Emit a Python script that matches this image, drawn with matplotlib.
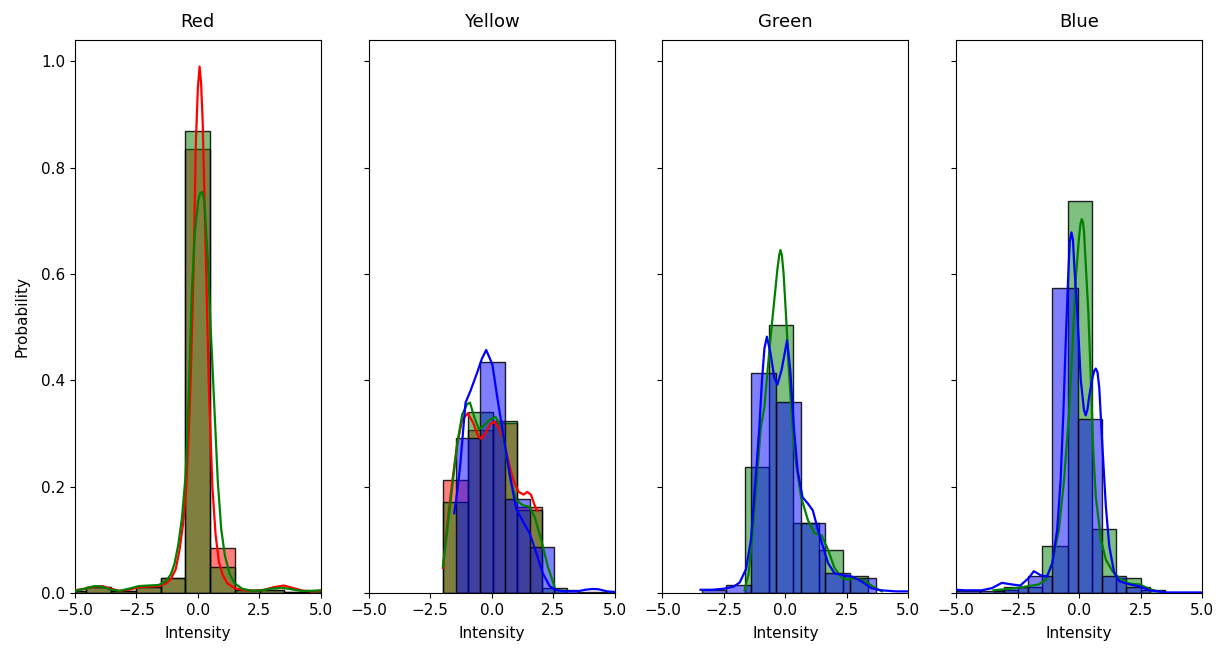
import matplotlib
matplotlib.use("Agg")
import matplotlib.pyplot as plt
from matplotlib.colors import to_rgba
import numpy as np

plt.rcParams["font.size"] = 11
plt.rcParams["xtick.labelsize"] = 11
plt.rcParams["ytick.labelsize"] = 11

panel_titles = ["Red", "Yellow", "Green", "Blue"]
x_ticks = [-5.0, -2.5, 0.0, 2.5, 5.0]

# ---- Panel 1 (Red): histograms (bin edges + probabilities) ----
p1_red_edges = [-5.56, -4.55, -3.54, -2.53, -1.52, -0.51, 0.49, 1.50, 2.51, 3.52, 4.53, 5.54]
p1_red_probs = [0.004, 0.011, 0.004, 0.011, 0.028, 0.834, 0.084, 0.005, 0.005, 0.002, 0.004]
p1_green_edges = [-5.56, -4.55, -3.54, -2.53, -1.52, -0.51, 0.49, 1.50, 2.51, 3.52, 4.53, 5.54]
p1_green_probs = [0.004, 0.011, 0.004, 0.011, 0.028, 0.868, 0.048, 0.005, 0.005, 0.002, 0.004]
# KDE curves
p1_red_kde_x = [-5.0, -4.6, -4.2, -3.9, -3.6, -3.2, -2.8, -2.4, -2.0, -1.6, -1.3, -1.1, -0.9, -0.75,
                -0.6, -0.47, -0.37, -0.28, -0.18, -0.08, 0.0, 0.07, 0.13, 0.2, 0.34, 0.45, 0.59,
                0.72, 0.85, 1.0, 1.2, 1.5, 1.9, 2.3, 2.7, 3.1, 3.5, 3.9, 4.3, 4.7, 5.0]
p1_red_kde_y = [0.005, 0.008, 0.012, 0.013, 0.009, 0.004, 0.006, 0.011, 0.012, 0.013, 0.018, 0.026,
                0.045, 0.08, 0.13, 0.2, 0.3, 0.42, 0.6, 0.85, 0.95, 0.99, 0.96, 0.88, 0.6, 0.38,
                0.2, 0.11, 0.06, 0.035, 0.018, 0.009, 0.005, 0.004, 0.006, 0.011, 0.014, 0.009,
                0.004, 0.003, 0.004]
p1_green_kde_x = [-5.0, -4.6, -4.2, -3.9, -3.6, -3.2, -2.8, -2.4, -2.0, -1.6, -1.3, -1.1, -0.95, -0.8,
                  -0.65, -0.5, -0.38, -0.25, -0.12, 0.02, 0.1, 0.18, 0.25, 0.3, 0.4, 0.5, 0.61, 0.7,
                  0.81, 0.95, 1.1, 1.3, 1.5, 1.8, 2.2, 2.6, 3.0, 3.4, 3.8, 4.2, 4.6, 5.0]
p1_green_kde_y = [0.004, 0.008, 0.013, 0.012, 0.007, 0.004, 0.008, 0.013, 0.014, 0.015, 0.022, 0.035,
                  0.055, 0.09, 0.14, 0.22, 0.36, 0.56, 0.68, 0.74, 0.752, 0.754, 0.74, 0.71, 0.63,
                  0.52, 0.41, 0.32, 0.21, 0.12, 0.07, 0.035, 0.018, 0.008, 0.004, 0.005, 0.008,
                  0.01, 0.007, 0.004, 0.004, 0.005]

# ---- Panel 2 (Yellow) ----
p2_red_edges = [-1.98, -0.94, 0.05, 1.05, 2.06]
p2_red_probs = [0.212, 0.306, 0.320, 0.162]
p2_green_edges = [-1.98, -0.94, 0.05, 1.05, 2.06, 3.07]
p2_green_probs = [0.171, 0.341, 0.323, 0.156, 0.009]
p2_blue_edges = [-1.46, -0.46, 0.53, 1.55, 2.52, 3.51, 4.50, 5.49]
p2_blue_probs = [0.291, 0.435, 0.177, 0.087, 0.006, 0.002, 0.002]
p2_red_kde_x = [-1.98, -1.8, -1.6, -1.4, -1.2, -0.97, -0.75, -0.55, -0.42, -0.25, -0.05, 0.12, 0.3,
                0.5, 0.7, 0.9, 1.1, 1.3, 1.45, 1.6, 1.75, 1.85]
p2_red_kde_y = [0.047, 0.13, 0.21, 0.28, 0.325, 0.338, 0.32, 0.295, 0.29, 0.30, 0.318, 0.322, 0.31,
                0.285, 0.245, 0.21, 0.19, 0.185, 0.19, 0.185, 0.165, 0.155]
p2_green_kde_x = [-1.98, -1.8, -1.6, -1.4, -1.2, -1.0, -0.88, -0.7, -0.52, -0.3, -0.1, 0.16, 0.39,
                  0.6, 0.8, 1.0, 1.27, 1.55, 1.75, 2.02, 2.29, 2.56]
p2_green_kde_y = [0.05, 0.12, 0.2, 0.28, 0.335, 0.355, 0.358, 0.33, 0.308, 0.315, 0.325, 0.331, 0.313,
                  0.256, 0.206, 0.175, 0.165, 0.162, 0.143, 0.10, 0.049, 0.012]
p2_blue_kde_x = [-1.52, -1.4, -1.27, -1.15, -1.06, -0.86, -0.59, -0.4, -0.22, 0.03, 0.23, 0.5, 0.75,
                 1.0, 1.27, 1.55, 1.82, 2.08, 2.36, 2.6, 2.95, 3.5, 3.8, 4.1, 4.35, 4.7, 5.0]
p2_blue_kde_y = [0.15, 0.19, 0.243, 0.31, 0.358, 0.38, 0.414, 0.44, 0.457, 0.43, 0.368, 0.29, 0.22,
                 0.158, 0.135, 0.112, 0.075, 0.037, 0.013, 0.006, 0.003, 0.003, 0.006, 0.0075,
                 0.007, 0.003, 0.002]

# ---- Panel 3 (Green) ----
p3_green_edges = [-1.66, -0.67, 0.33, 1.35, 2.35, 3.36]
p3_green_probs = [0.237, 0.504, 0.131, 0.081, 0.031]
p3_blue_edges = [-3.40, -2.40, -1.41, -0.38, 0.64, 1.63, 2.63, 3.68]
p3_blue_probs = [0.005, 0.015, 0.413, 0.360, 0.132, 0.038, 0.028]
p3_green_kde_x = [-1.66, -1.5, -1.33, -1.15, -1.0, -0.85, -0.72, -0.58, -0.45, -0.32, -0.25, -0.2,
                  -0.14, -0.07, 0.03, 0.13, 0.23, 0.33, 0.44, 0.64, 0.92, 1.19, 1.47, 1.74, 2.0, 2.3,
                  2.56, 2.84, 3.25, 3.66, 3.93]
p3_green_kde_y = [0.005, 0.035, 0.11, 0.22, 0.31, 0.35, 0.42, 0.49, 0.55, 0.61, 0.635, 0.645, 0.635,
                  0.6, 0.52, 0.43, 0.355, 0.29, 0.242, 0.18, 0.137, 0.112, 0.109, 0.081, 0.047,
                  0.028, 0.025, 0.028, 0.022, 0.009, 0.003]
p3_blue_kde_x = [-3.45, -3.0, -2.5, -2.1, -1.85, -1.6, -1.4, -1.2, -1.06, -0.95, -0.85, -0.75, -0.6,
                 -0.45, -0.32, -0.15, 0.07, 0.2, 0.35, 0.5, 0.7, 0.92, 1.12, 1.33, 1.53, 1.74, 2.0,
                 2.3, 2.7, 3.1, 3.5, 3.9, 4.5, 5.0]
p3_blue_kde_y = [0.006, 0.006, 0.008, 0.012, 0.02, 0.045, 0.1, 0.22, 0.31, 0.4, 0.46, 0.482, 0.45,
                 0.405, 0.392, 0.42, 0.475, 0.42, 0.31, 0.23, 0.18, 0.168, 0.155, 0.118, 0.087,
                 0.056, 0.037, 0.034, 0.031, 0.022, 0.009, 0.005, 0.003, 0.003]

# ---- Panel 4 (Blue) ----
p4_green_edges = [-3.48, -2.47, -1.49, -0.46, 0.53, 1.50, 2.50, 3.50]
p4_green_probs = [0.006, 0.012, 0.089, 0.737, 0.120, 0.028, 0.006]
p4_blue_edges = [-5.02, -4.03, -3.04, -2.07, -1.09, -0.04, 0.95, 1.92, 2.90]
p4_blue_probs = [0.003, 0.004, 0.012, 0.031, 0.573, 0.328, 0.031, 0.012]
p4_green_kde_x = [-3.48, -3.27, -2.59, -1.91, -1.64, -1.36, -1.09, -0.82, -0.61, -0.41, -0.27, -0.14,
                  0.0, 0.06, 0.11, 0.16, 0.2, 0.27, 0.38, 0.48, 0.57, 0.68, 0.89, 1.09, 1.36, 1.64,
                  2.05, 2.46, 2.86, 3.2, 3.5]
p4_green_kde_y = [0.005, 0.006, 0.009, 0.014, 0.016, 0.025, 0.056, 0.119, 0.2125, 0.3375, 0.4625,
                  0.5875, 0.67, 0.695, 0.703, 0.697, 0.68, 0.619, 0.525, 0.4, 0.275, 0.181, 0.1,
                  0.0625, 0.041, 0.028, 0.0175, 0.016, 0.0075, 0.003, 0.001]
p4_blue_kde_x = [-5.0, -4.64, -3.96, -3.55, -3.14, -2.73, -2.39, -2.05, -1.84, -1.55, -1.3, -1.09,
                 -0.89, -0.75, -0.64, -0.55, -0.45, -0.38, -0.31, -0.25, -0.2, -0.07, 0.07, 0.2,
                 0.27, 0.34, 0.41, 0.55, 0.62, 0.68, 0.75, 0.82, 0.95, 1.09, 1.23, 1.43, 1.64, 2.05,
                 2.46, 2.86, 3.55, 5.0]
p4_blue_kde_y = [0.006, 0.005, 0.005, 0.009, 0.019, 0.016, 0.014, 0.028, 0.041, 0.033, 0.031, 0.056,
                 0.119, 0.2125, 0.3375, 0.4625, 0.5875, 0.66, 0.678, 0.665, 0.62, 0.525, 0.4, 0.344,
                 0.334, 0.345, 0.369, 0.406, 0.418, 0.422, 0.415, 0.387, 0.275, 0.1625, 0.0875,
                 0.0375, 0.022, 0.016, 0.0125, 0.005, 0.001, 0.001]

panels = [
    [("red", p1_red_edges, p1_red_probs, p1_red_kde_x, p1_red_kde_y),
     ("green", p1_green_edges, p1_green_probs, p1_green_kde_x, p1_green_kde_y)],
    [("red", p2_red_edges, p2_red_probs, p2_red_kde_x, p2_red_kde_y),
     ("green", p2_green_edges, p2_green_probs, p2_green_kde_x, p2_green_kde_y),
     ("blue", p2_blue_edges, p2_blue_probs, p2_blue_kde_x, p2_blue_kde_y)],
    [("green", p3_green_edges, p3_green_probs, p3_green_kde_x, p3_green_kde_y),
     ("blue", p3_blue_edges, p3_blue_probs, p3_blue_kde_x, p3_blue_kde_y)],
    [("green", p4_green_edges, p4_green_probs, p4_green_kde_x, p4_green_kde_y),
     ("blue", p4_blue_edges, p4_blue_probs, p4_blue_kde_x, p4_blue_kde_y)],
]

fig, axes = plt.subplots(1, 4, figsize=(12.25, 6.55), dpi=100, sharey=True)
fig.subplots_adjust(left=0.0612, right=0.9812, top=0.939, bottom=0.0947, wspace=0.195)

for ax, title, layers in zip(axes, panel_titles, panels):
    for color, edges, probs, kx, ky in layers:
        e = np.asarray(edges)
        ax.bar(e[:-1], probs, width=np.diff(e), align="edge",
               facecolor=to_rgba(color, 0.5), edgecolor=(0, 0, 0, 0.85),
               linewidth=1.0, zorder=2)
        ax.plot(kx, ky, color=color, linewidth=1.6, zorder=3)
    ax.set_title(title, fontsize=13, pad=9)
    ax.set_xlabel("Intensity", fontsize=11, labelpad=6)
    ax.set_xlim(-5, 5)
    ax.set_xticks(x_ticks)

axes[0].set_ylim(0, 1.04)
axes[0].set_ylabel("Probability", fontsize=11, labelpad=8)

fig.savefig("out.png", dpi=100)
